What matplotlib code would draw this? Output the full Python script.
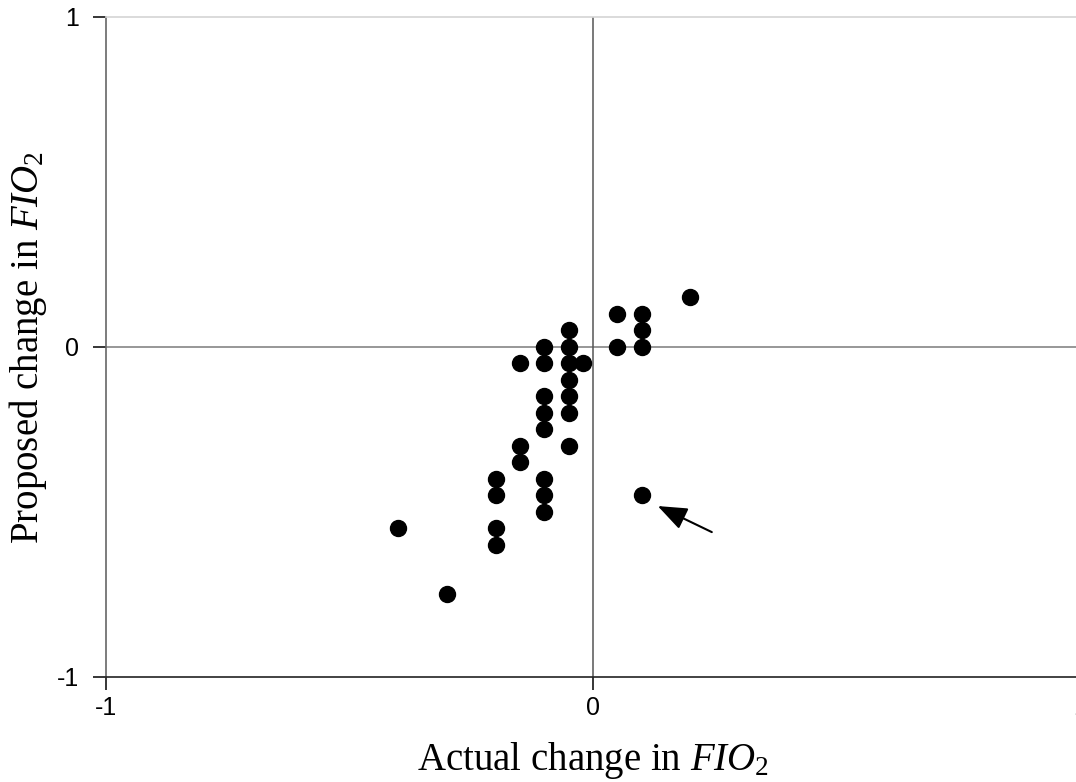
import numpy as np
import matplotlib.pyplot as plt

plt.rcParams['font.family'] = ['Liberation Sans', 'DejaVu Sans']
plt.rcParams['mathtext.fontset'] = 'custom'
plt.rcParams['mathtext.rm'] = 'Liberation Serif'
plt.rcParams['mathtext.it'] = 'Liberation Serif:italic'

# actual vs proposed change in FIO2
actual = [-0.40, -0.30, -0.20, -0.20, -0.20, -0.20, -0.15, -0.15, -0.15,
          -0.10, -0.10, -0.10, -0.10, -0.10, -0.10, -0.10, -0.10,
          -0.05, -0.05, -0.05, -0.05, -0.05, -0.05, -0.05, -0.02,
          0.05, 0.05, 0.10, 0.10, 0.10, 0.10, 0.20]
proposed = [-0.55, -0.75, -0.40, -0.45, -0.55, -0.60, -0.30, -0.35, -0.05,
            0.00, -0.05, -0.15, -0.20, -0.25, -0.40, -0.45, -0.50,
            0.05, 0.00, -0.05, -0.10, -0.15, -0.20, -0.30, -0.05,
            0.10, 0.00, 0.10, 0.05, 0.00, -0.45, 0.15]
ticks = [-1, 0, 1]
tickLabels = ['-1', '0', '1']
# the outlier pointed at by the arrow
arrowTip = (0.133, -0.482)
arrowTail = (0.244, -0.561)

fig = plt.figure(figsize=(10.76, 7.82), dpi=100)
ax = fig.add_axes([0.0985, 0.1343, 0.9052, 0.844])

ax.axhline(0, color='#7a7a7a', lw=1.1, zorder=1)
ax.axvline(0, color='#555555', lw=1.1, zorder=1)

ax.plot(actual, proposed, 'o', color='black', markersize=11.5, zorder=3)

ax.annotate('', xy=arrowTip, xytext=arrowTail,
            arrowprops=dict(arrowstyle='-|>,head_length=0.9,head_width=0.35',
                            mutation_scale=20, color='black', lw=1.5,
                            shrinkA=0, shrinkB=0))

ax.set_xlim(-1, 1)
ax.set_ylim(-1, 1)
ax.set_xticks(ticks)
ax.set_yticks(ticks)
ax.set_xticklabels(tickLabels)
ax.set_yticklabels(tickLabels)
ax.tick_params(direction='out', length=9.5, width=1.1, labelsize=18)
ax.tick_params(axis='x', pad=4)
ax.tick_params(axis='y', pad=10)

ax.spines['left'].set_color('#666666')
ax.spines['bottom'].set_color('#222222')
ax.spines['top'].set_color('#d4d4d4')
ax.spines['right'].set_visible(False)
for s in ['left', 'bottom', 'top']:
    ax.spines[s].set_linewidth(1.2)

ax.set_xlabel(r'Actual change in $\mathit{FIO}_2$', fontfamily='Liberation Serif',
              fontsize=28)
ax.set_ylabel(r'Proposed change in $\mathit{FIO}_2$', fontfamily='Liberation Serif',
              fontsize=28)
ax.xaxis.set_label_coords(0.5, -0.095)
ax.yaxis.set_label_coords(-0.058, 0.5)

fig.savefig('out.png', dpi=100)
